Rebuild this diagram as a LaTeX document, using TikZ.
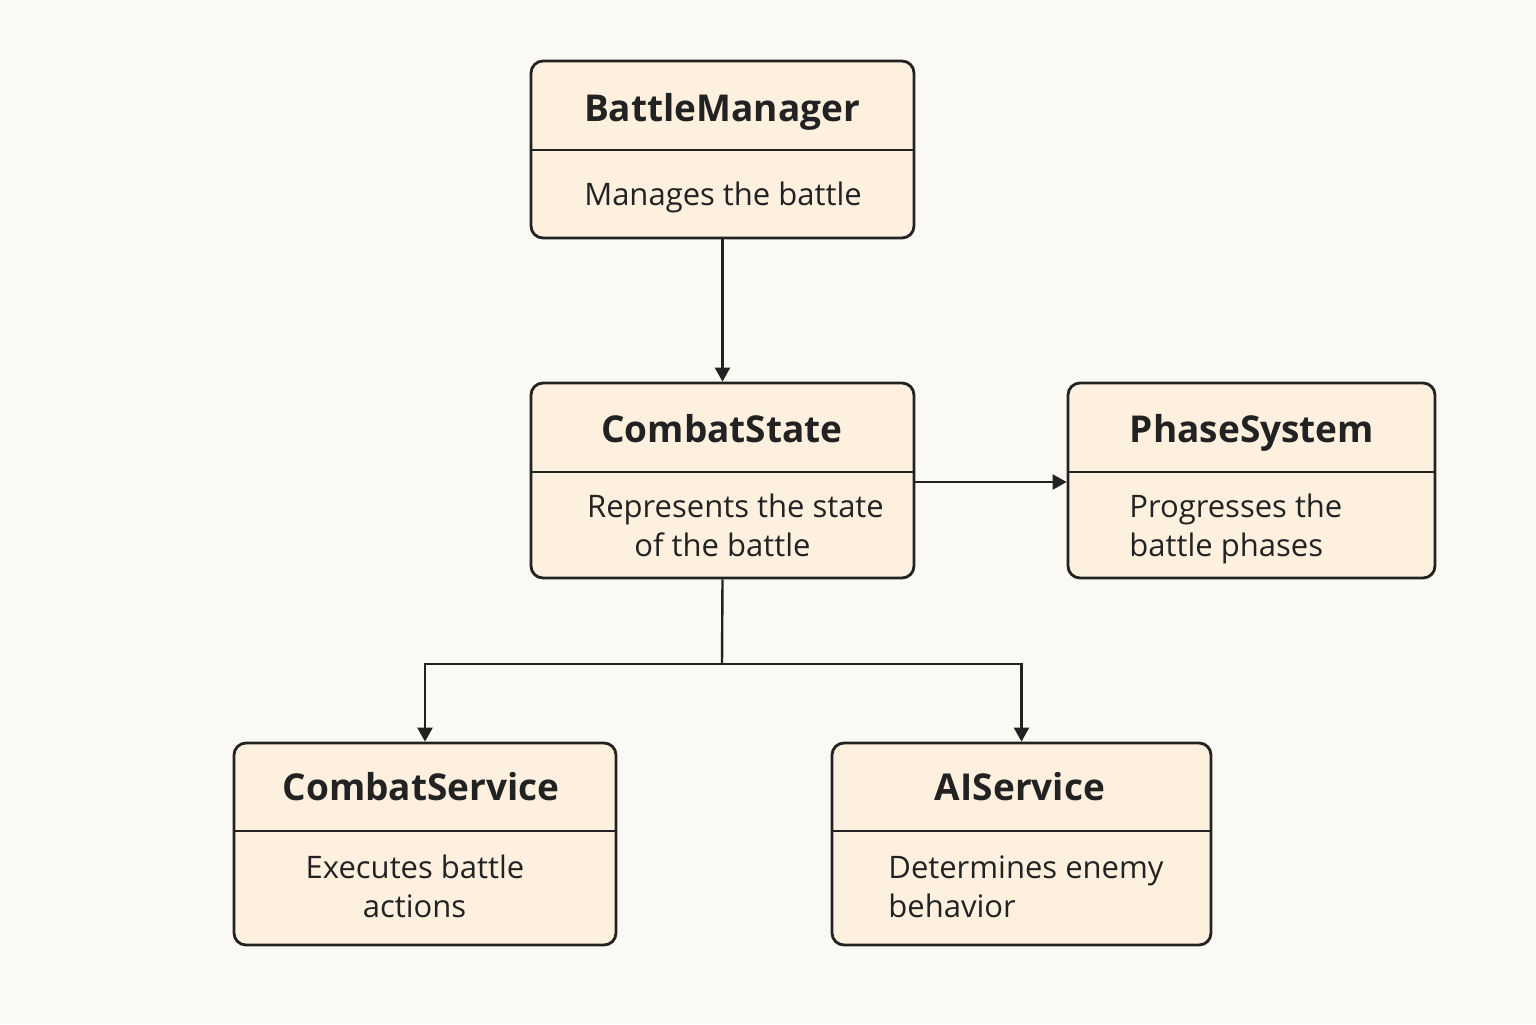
\documentclass[tikz,border=0pt]{standalone}
\usepackage{fontspec}
\setmainfont{Open Sans}
\usetikzlibrary{arrows.meta,positioning}
\definecolor{bgc}{HTML}{FBF9F4}
\definecolor{boxc}{HTML}{FDF0DF}
\definecolor{linec}{HTML}{222222}
\tikzset{
  box/.style={draw=linec, fill=boxc, line width=1.4pt, rounded corners=6pt, inner sep=0pt},
  ttl/.style={font=\fontsize{18.5}{22}\selectfont\bfseries, text=linec, inner sep=0pt, anchor=base},
  bdy/.style={font=\fontsize{15.5}{20}\selectfont, text=linec, inner sep=0pt, anchor=base},
  bdyl/.style={bdy, anchor=base west},
  conn/.style={draw=linec, line width=1.2pt, -{Triangle[length=7pt,width=7.5pt]}},
  divl/.style={draw=linec, line width=1.2pt}
}
\begin{document}
\begin{tikzpicture}[x=0.5pt,y=-0.5pt]
\fill[bgc] (0,0) rectangle (1536,1024);
\useasboundingbox (0,0) rectangle (1536,1024);
% boxes
\node[box, minimum width=191.5pt, minimum height=88.5pt] (bm) at (722.5,149.5) {};
\node[box, minimum width=191.5pt, minimum height=97.5pt] (cs) at (722.5,480.5) {};
\node[box, minimum width=183.5pt, minimum height=97.5pt] (ps) at (1251.5,480.5) {};
\node[box, minimum width=191pt, minimum height=101pt] (sv) at (425,844) {};
\node[box, minimum width=189.5pt, minimum height=101pt] (ai) at (1021.5,844) {};
% dividers
\draw[divl] (bm.west |- 0,150) -- (bm.east |- 0,150);
\draw[divl] (cs.west |- 0,472) -- (cs.east |- 0,472);
\draw[divl] (ps.west |- 0,472) -- (ps.east |- 0,472);
\draw[divl] (sv.west |- 0,831) -- (sv.east |- 0,831);
\draw[divl] (ai.west |- 0,831) -- (ai.east |- 0,831);
% titles
\node[ttl] (bmt) at (722,121) {BattleManager};
\node[ttl] (cst) at (722,442) {CombatState};
\node[ttl] (pst) at (1252,442) {PhaseSystem};
\node[ttl] (svt) at (421,800) {CombatService};
\node[ttl] (ait) at (1020,800) {AIService};
% bodies
\node[bdy] (bmb) at (723,205) {Manages the battle};
\node[bdy] (csb1) at (735.5,517) {Represents the state};
\node[bdy] (csb2) at (722.5,556) {of the battle};
\node[bdyl] (psb1) at (1129,517) {Progresses the};
\node[bdyl] (psb2) at (1129,556) {battle phases};
\node[bdy] (svb1) at (415,878) {Executes battle};
\node[bdy] (svb2) at (414.5,917) {actions};
\node[bdyl] (aib1) at (888,878) {Determines enemy};
\node[bdyl] (aib2) at (888,917) {behavior};
% connectors
\draw[conn] (bm.south) -- (cs.north);
\draw[conn] (cs.east |- 0,482) -- (ps.west |- 0,482);
\coordinate (split) at (722,664);
\draw[draw=linec, line width=1.2pt] (cs.south) -- (split);
\draw[conn] (split) -| (sv.north);
\draw[conn] (split) -| (ai.north);
\end{tikzpicture}
\end{document}
